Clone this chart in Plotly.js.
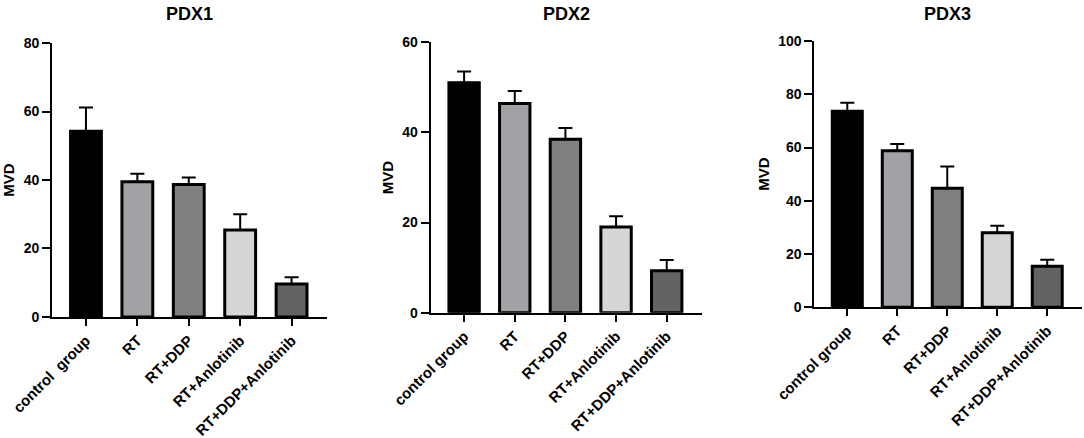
<!DOCTYPE html>
<html>
<head>
<meta charset="utf-8">
<script src="https://cdn.plot.ly/plotly-3.0.1.min.js"></script>
<style>
  html, body { margin: 0; padding: 0; background: #fff; }
  #plot { width: 1084px; height: 438px; }
</style>
</head>
<body>
<div id="plot"></div>
<script>
// groups on the x axis (PDX1 label has the double space)
var groups1 = ["control  group", "RT", "RT+DDP", "RT+Anlotinib", "RT+DDP+Anlotinib"];
var groups = ["control group", "RT", "RT+DDP", "RT+Anlotinib", "RT+DDP+Anlotinib"];
var barColors = ["#000000", "#a1a1a6", "#808080", "#d6d6d6", "#636363"];

// mean values and top of error bars
var pdx1Mean = [54.2, 39.5, 38.7, 25.4, 9.6];
var pdx1Top = [61.2, 41.8, 40.7, 30.0, 11.6];
var pdx2Mean = [51.0, 46.4, 38.5, 19.0, 9.3];
var pdx2Top = [53.5, 49.2, 41.0, 21.4, 11.7];
var pdx3Mean = [73.6, 58.8, 44.7, 28.0, 15.4];
var pdx3Top = [76.8, 61.3, 52.9, 30.6, 17.9];

var fontFam = "Liberation Sans, Arial, sans-serif";

function barTrace(cats, mean, top, xa, ya) {
  var up = [];
  for (var i = 0; i < mean.length; i++) {
    up.push(top[i] - mean[i]);
  }
  return {
    type: "bar",
    x: cats,
    y: mean,
    xaxis: xa,
    yaxis: ya,
    width: 0.6,
    marker: { color: barColors, line: { color: "#000", width: 3 } },
    error_y: {
      type: "data", symmetric: false, array: up,
      arrayminus: mean.map(function () { return 0; }),
      color: "#000", thickness: 2, width: 7
    },
    showlegend: false,
    hoverinfo: "x+y"
  };
}

var data = [
  barTrace(groups1, pdx1Mean, pdx1Top, "x", "y"),
  barTrace(groups, pdx2Mean, pdx2Top, "x2", "y2"),
  barTrace(groups, pdx3Mean, pdx3Top, "x3", "y3")
];

function xAxis(dom, anchor) {
  return {
    domain: dom, anchor: anchor, type: "category",
    range: [-0.66, 4.69],
    showline: true, linecolor: "#000", linewidth: 2,
    ticks: "outside", ticklen: 7, tickwidth: 2, tickcolor: "#000",
    tickangle: -45, showgrid: false, zeroline: false,
    tickfont: { family: fontFam, size: 15, color: "#000", weight: "bold" }
  };
}

function yAxis(dom, anchor, top, step, gap) {
  return {
    domain: dom, anchor: anchor, range: [0, top], dtick: step,
    showline: true, linecolor: "#000", linewidth: 2,
    ticks: "outside", ticklen: 8, tickwidth: 2, tickcolor: "#000",
    showgrid: false, zeroline: false,
    tickfont: { family: fontFam, size: 14, color: "#000", weight: "bold" },
    title: { text: "MVD", standoff: gap,
      font: { family: fontFam, size: 15, color: "#000", weight: "bold" } }
  };
}

var layout = {
  width: 1084,
  height: 438,
  margin: { l: 0, r: 0, t: 0, b: 0 },
  paper_bgcolor: "#fff",
  plot_bgcolor: "#fff",
  bargap: 0.4,
  xaxis: xAxis([0.048, 0.3017], "y"),
  yaxis: yAxis([0.2763, 0.9018], "x", 80, 20, 12),
  xaxis2: xAxis([0.3973, 0.6473], "y2"),
  yaxis2: yAxis([0.2861, 0.9034], "x2", 60, 20, 5),
  xaxis3: xAxis([0.7512, 0.9979], "y3"),
  yaxis3: yAxis([0.2984, 0.9064], "x3", 100, 20, 5),
  annotations: [
    { text: "PDX1", x: 189, y: 14 },
    { text: "PDX2", x: 566, y: 14 },
    { text: "PDX3", x: 947, y: 14 }
  ].map(function (a) {
    return {
      text: a.text, xref: "paper", yref: "paper",
      x: a.x / 1084, y: 1 - a.y / 438, xanchor: "center", yanchor: "middle",
      showarrow: false,
      font: { family: fontFam, size: 18, color: "#000", weight: "bold" }
    };
  })
};

Plotly.newPlot("plot", data, layout, { staticPlot: true });
</script>
</body>
</html>
